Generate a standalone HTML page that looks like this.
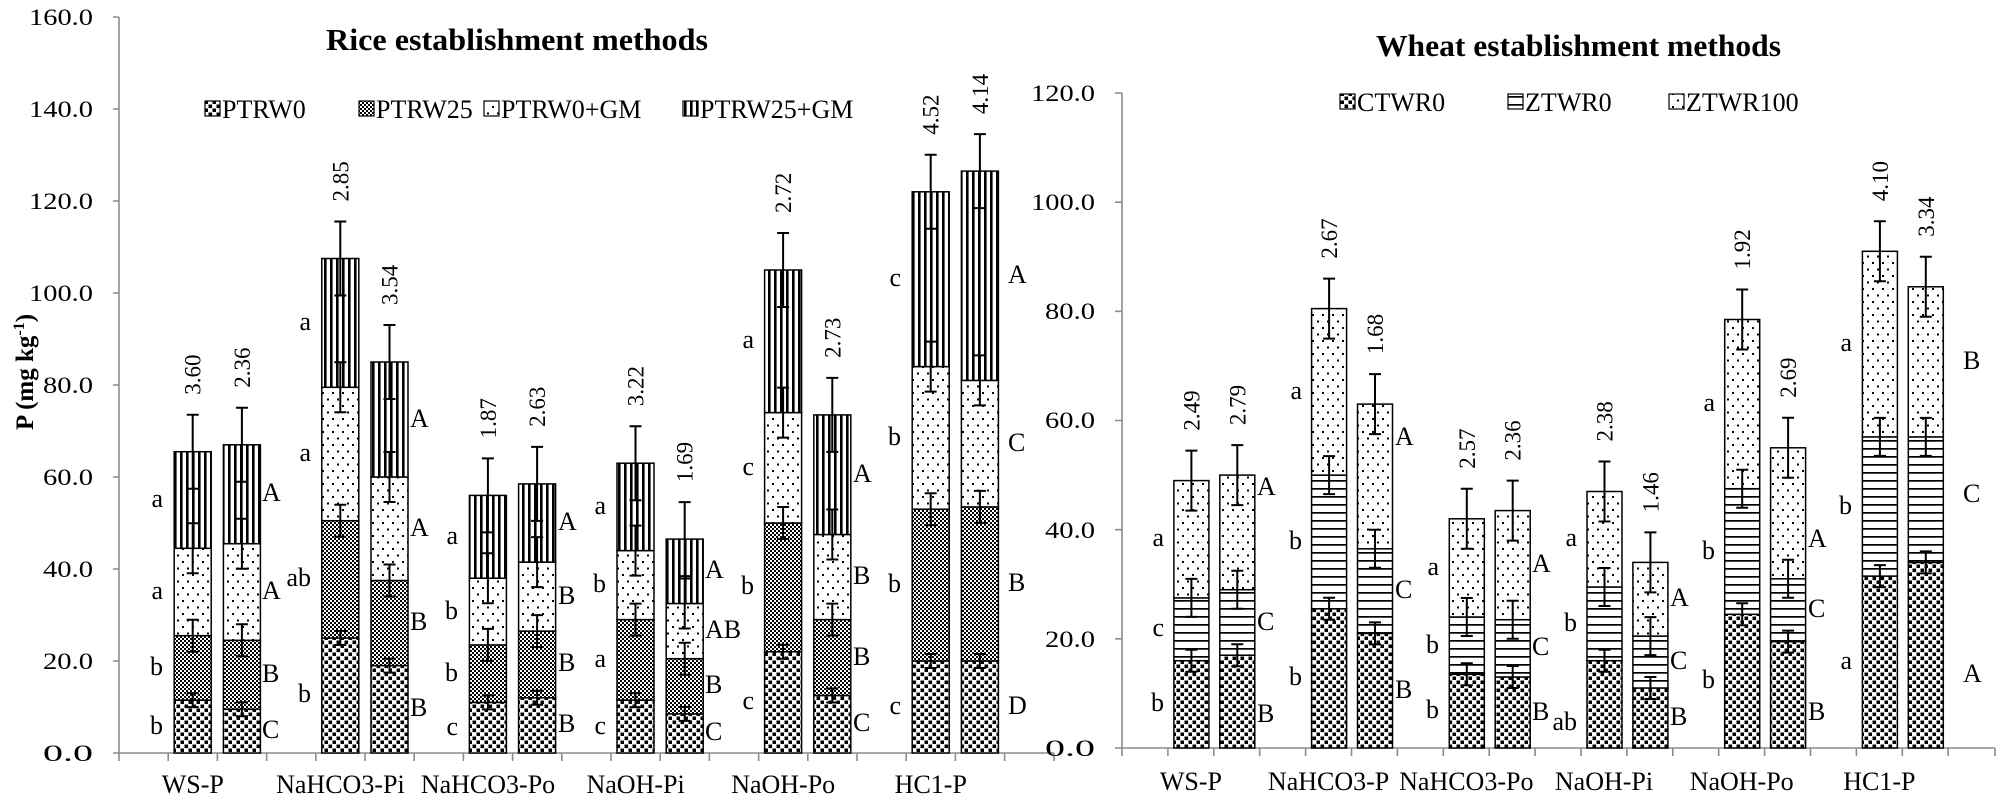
<!DOCTYPE html>
<html><head><meta charset="utf-8"><style>
html,body{margin:0;padding:0;background:#fff}
svg{display:block}
text{font-family:"Liberation Serif",serif;fill:#000}
</style></head><body>
<svg width="2007" height="803" viewBox="0 0 2007 803" xmlns="http://www.w3.org/2000/svg">
<defs>
<pattern id="p1" width="8" height="8" patternUnits="userSpaceOnUse"><rect width="8" height="8" fill="#fff"/><rect x="0.5" y="0.5" width="3.6" height="3.6" fill="#000"/><rect x="4.5" y="4.5" width="3.6" height="3.6" fill="#000"/></pattern>
<pattern id="p2" width="4" height="4" patternUnits="userSpaceOnUse"><rect width="4" height="4" fill="#fff"/><rect width="2" height="2" fill="#000"/><rect x="2" y="2" width="2" height="2" fill="#000"/></pattern>
<pattern id="p3" width="10" height="13" patternUnits="userSpaceOnUse"><rect width="10" height="13" fill="#fff"/><rect x="2" y="2" width="2" height="2" fill="#000"/><rect x="7" y="8.5" width="2" height="2" fill="#000"/></pattern>
<pattern id="p4" width="6" height="6" patternUnits="userSpaceOnUse"><rect width="6" height="6" fill="#fff"/><rect width="2.6" height="6" fill="#000"/></pattern>
<pattern id="p5" width="8" height="8" patternUnits="userSpaceOnUse"><rect width="8" height="8" fill="#fff"/><rect y="0" width="8" height="1.7" fill="#000"/></pattern>
</defs>

<!-- ========== LEFT (RICE) ========== -->
<text x="326" y="50" font-size="31" font-weight="bold" textLength="382" lengthAdjust="spacingAndGlyphs">Rice establishment methods</text>

<g font-size="26">
<rect x="205" y="101" width="15" height="15" fill="url(#p1)" stroke="#000" stroke-width="1.2"/><text x="222" y="118">PTRW0</text>
<rect x="359" y="101" width="15" height="15" fill="url(#p2)" stroke="#000" stroke-width="1.2"/><text x="376" y="118">PTRW25</text>
<rect x="484" y="101" width="15" height="15" fill="url(#p3)" stroke="#000" stroke-width="1.2"/><text x="501" y="118">PTRW0+GM</text>
<rect x="683" y="101" width="15" height="15" fill="url(#p4)" stroke="#000" stroke-width="1.2"/><text x="700" y="118">PTRW25+GM</text>
</g>

<text transform="translate(33,372) rotate(-90)" font-size="25" font-weight="bold" text-anchor="middle">P (mg kg<tspan dy="-9" font-size="16">-1</tspan><tspan dy="9">)</tspan></text>

<g stroke="#8c8c8c" stroke-width="1.6" fill="none">
<path d="M119,17V753H1054"/>
<path d="M113,753h6M113,661h6M113,569h6M113,477h6M113,385h6M113,293h6M113,201h6M113,109h6M113,17h6"/>
<path d="M119,753v8M168.2,753v8M217.4,753v8M266.6,753v8M315.8,753v8M365,753v8M414.2,753v8M463.4,753v8M512.6,753v8M561.8,753v8M611,753v8M660.2,753v8M709.4,753v8M758.6,753v8M807.8,753v8M857,753v8M906.2,753v8M955.4,753v8M1004.6,753v8M1054,753v8"/>
</g>
<g font-size="23" text-anchor="end">
<text x="93" y="761" textLength="50" lengthAdjust="spacingAndGlyphs">0.0</text>
<text x="93" y="669" textLength="50" lengthAdjust="spacingAndGlyphs">20.0</text>
<text x="93" y="577" textLength="50" lengthAdjust="spacingAndGlyphs">40.0</text>
<text x="93" y="485" textLength="50" lengthAdjust="spacingAndGlyphs">60.0</text>
<text x="93" y="393" textLength="50" lengthAdjust="spacingAndGlyphs">80.0</text>
<text x="93" y="301" textLength="64" lengthAdjust="spacingAndGlyphs">100.0</text>
<text x="93" y="209" textLength="64" lengthAdjust="spacingAndGlyphs">120.0</text>
<text x="93" y="117" textLength="64" lengthAdjust="spacingAndGlyphs">140.0</text>
<text x="93" y="25" textLength="64" lengthAdjust="spacingAndGlyphs">160.0</text>
</g>

<g stroke="#000" stroke-width="1.5">
<rect x="174.2" y="700.1" width="37" height="52.9" fill="url(#p1)"/><rect x="174.2" y="635.7" width="37" height="64.4" fill="url(#p2)"/><rect x="174.2" y="548.3" width="37" height="87.4" fill="url(#p3)"/><rect x="174.2" y="451.7" width="37" height="96.6" fill="url(#p4)"/>
<rect x="223.4" y="709.3" width="37" height="43.7" fill="url(#p1)"/><rect x="223.4" y="640.3" width="37" height="69" fill="url(#p2)"/><rect x="223.4" y="543.7" width="37" height="96.6" fill="url(#p3)"/><rect x="223.4" y="444.8" width="37" height="98.9" fill="url(#p4)"/>
<rect x="321.8" y="638" width="37" height="115" fill="url(#p1)"/><rect x="321.8" y="520.7" width="37" height="117.3" fill="url(#p2)"/><rect x="321.8" y="387.3" width="37" height="133.4" fill="url(#p3)"/><rect x="321.8" y="258.5" width="37" height="128.8" fill="url(#p4)"/>
<rect x="371" y="665.6" width="37" height="87.4" fill="url(#p1)"/><rect x="371" y="580.5" width="37" height="85.1" fill="url(#p2)"/><rect x="371" y="477" width="37" height="103.5" fill="url(#p3)"/><rect x="371" y="362" width="37" height="115" fill="url(#p4)"/>
<rect x="469.4" y="702.4" width="37" height="50.6" fill="url(#p1)"/><rect x="469.4" y="644.9" width="37" height="57.5" fill="url(#p2)"/><rect x="469.4" y="578.2" width="37" height="66.7" fill="url(#p3)"/><rect x="469.4" y="495.4" width="37" height="82.8" fill="url(#p4)"/>
<rect x="518.6" y="697.8" width="37" height="55.2" fill="url(#p1)"/><rect x="518.6" y="631.1" width="37" height="66.7" fill="url(#p2)"/><rect x="518.6" y="562.1" width="37" height="69" fill="url(#p3)"/><rect x="518.6" y="483.9" width="37" height="78.2" fill="url(#p4)"/>
<rect x="617" y="700.1" width="37" height="52.9" fill="url(#p1)"/><rect x="617" y="619.6" width="37" height="80.5" fill="url(#p2)"/><rect x="617" y="550.6" width="37" height="69" fill="url(#p3)"/><rect x="617" y="463.2" width="37" height="87.4" fill="url(#p4)"/>
<rect x="666.2" y="713.9" width="37" height="39.1" fill="url(#p1)"/><rect x="666.2" y="658.7" width="37" height="55.2" fill="url(#p2)"/><rect x="666.2" y="603.5" width="37" height="55.2" fill="url(#p3)"/><rect x="666.2" y="539.1" width="37" height="64.4" fill="url(#p4)"/>
<rect x="764.6" y="651.8" width="37" height="101.2" fill="url(#p1)"/><rect x="764.6" y="523" width="37" height="128.8" fill="url(#p2)"/><rect x="764.6" y="412.6" width="37" height="110.4" fill="url(#p3)"/><rect x="764.6" y="270" width="37" height="142.6" fill="url(#p4)"/>
<rect x="813.8" y="695.5" width="37" height="57.5" fill="url(#p1)"/><rect x="813.8" y="619.6" width="37" height="75.9" fill="url(#p2)"/><rect x="813.8" y="534.5" width="37" height="85.1" fill="url(#p3)"/><rect x="813.8" y="414.9" width="37" height="119.6" fill="url(#p4)"/>
<rect x="912.2" y="661" width="37" height="92" fill="url(#p1)"/><rect x="912.2" y="509.2" width="37" height="151.8" fill="url(#p2)"/><rect x="912.2" y="366.6" width="37" height="142.6" fill="url(#p3)"/><rect x="912.2" y="191.8" width="37" height="174.8" fill="url(#p4)"/>
<rect x="961.4" y="661" width="37" height="92" fill="url(#p1)"/><rect x="961.4" y="506.9" width="37" height="154.1" fill="url(#p2)"/><rect x="961.4" y="380.4" width="37" height="126.5" fill="url(#p3)"/><rect x="961.4" y="171.1" width="37" height="209.3" fill="url(#p4)"/>
</g>

<g stroke="#000" stroke-width="2" fill="none">
<path d="M192.7,693.1V707.1M186.7,693.1h12M186.7,707.1h12M192.7,619.7V651.7M186.7,619.7h12M186.7,651.7h12M192.7,523.3V573.3M186.7,523.3h12M186.7,573.3h12M192.7,414.7V488.7M186.7,414.7h12M186.7,488.7h12"/>
<path d="M241.9,702.3V716.3M235.9,702.3h12M235.9,716.3h12M241.9,624.3V656.3M235.9,624.3h12M235.9,656.3h12M241.9,518.7V568.7M235.9,518.7h12M235.9,568.7h12M241.9,407.8V481.8M235.9,407.8h12M235.9,481.8h12"/>
<path d="M340.3,631V645M334.3,631h12M334.3,645h12M340.3,504.7V536.7M334.3,504.7h12M334.3,536.7h12M340.3,362.3V412.3M334.3,362.3h12M334.3,412.3h12M340.3,221.5V295.5M334.3,221.5h12M334.3,295.5h12"/>
<path d="M389.5,658.6V672.6M383.5,658.6h12M383.5,672.6h12M389.5,564.5V596.5M383.5,564.5h12M383.5,596.5h12M389.5,452V502M383.5,452h12M383.5,502h12M389.5,325V399M383.5,325h12M383.5,399h12"/>
<path d="M487.9,695.4V709.4M481.9,695.4h12M481.9,709.4h12M487.9,628.9V660.9M481.9,628.9h12M481.9,660.9h12M487.9,553.2V603.2M481.9,553.2h12M481.9,603.2h12M487.9,458.4V532.4M481.9,458.4h12M481.9,532.4h12"/>
<path d="M537.1,690.8V704.8M531.1,690.8h12M531.1,704.8h12M537.1,615.1V647.1M531.1,615.1h12M531.1,647.1h12M537.1,537.1V587.1M531.1,537.1h12M531.1,587.1h12M537.1,446.9V520.9M531.1,446.9h12M531.1,520.9h12"/>
<path d="M635.5,693.1V707.1M629.5,693.1h12M629.5,707.1h12M635.5,603.6V635.6M629.5,603.6h12M629.5,635.6h12M635.5,525.6V575.6M629.5,525.6h12M629.5,575.6h12M635.5,426.2V500.2M629.5,426.2h12M629.5,500.2h12"/>
<path d="M684.7,706.9V720.9M678.7,706.9h12M678.7,720.9h12M684.7,642.7V674.7M678.7,642.7h12M678.7,674.7h12M684.7,578.5V628.5M678.7,578.5h12M678.7,628.5h12M684.7,502.1V576.1M678.7,502.1h12M678.7,576.1h12"/>
<path d="M783.1,644.8V658.8M777.1,644.8h12M777.1,658.8h12M783.1,507V539M777.1,507h12M777.1,539h12M783.1,387.6V437.6M777.1,387.6h12M777.1,437.6h12M783.1,233V307M777.1,233h12M777.1,307h12"/>
<path d="M832.3,688.5V702.5M826.3,688.5h12M826.3,702.5h12M832.3,603.6V635.6M826.3,603.6h12M826.3,635.6h12M832.3,509.5V559.5M826.3,509.5h12M826.3,559.5h12M832.3,377.9V451.9M826.3,377.9h12M826.3,451.9h12"/>
<path d="M930.7,654V668M924.7,654h12M924.7,668h12M930.7,493.2V525.2M924.7,493.2h12M924.7,525.2h12M930.7,341.6V391.6M924.7,341.6h12M924.7,391.6h12M930.7,154.8V228.8M924.7,154.8h12M924.7,228.8h12"/>
<path d="M979.9,654V668M973.9,654h12M973.9,668h12M979.9,490.9V522.9M973.9,490.9h12M973.9,522.9h12M979.9,355.4V405.4M973.9,355.4h12M973.9,405.4h12M979.9,134.1V208.1M973.9,134.1h12M973.9,208.1h12"/>
</g>

<g font-size="23">
<text transform="translate(200.7,394.7) rotate(-90)">3.60</text>
<text transform="translate(249.9,387.8) rotate(-90)">2.36</text>
<text transform="translate(348.3,201.5) rotate(-90)">2.85</text>
<text transform="translate(397.5,305) rotate(-90)">3.54</text>
<text transform="translate(495.9,438.4) rotate(-90)">1.87</text>
<text transform="translate(545.1,426.9) rotate(-90)">2.63</text>
<text transform="translate(643.5,406.2) rotate(-90)">3.22</text>
<text transform="translate(692.7,482.1) rotate(-90)">1.69</text>
<text transform="translate(791.1,213) rotate(-90)">2.72</text>
<text transform="translate(840.3,357.9) rotate(-90)">2.73</text>
<text transform="translate(938.7,134.8) rotate(-90)">4.52</text>
<text transform="translate(987.9,114.1) rotate(-90)">4.14</text>
</g>

<g font-size="26" text-anchor="end">
<text x="163" y="734">b</text><text x="163" y="675">b</text><text x="163" y="599">a</text><text x="163" y="507">a</text>
<text x="311" y="702">b</text><text x="311" y="586">ab</text><text x="311" y="461">a</text><text x="311" y="330">a</text>
<text x="458" y="735">c</text><text x="458" y="681">b</text><text x="458" y="619">b</text><text x="458" y="544">a</text>
<text x="606" y="734">c</text><text x="606" y="667">a</text><text x="606" y="592">b</text><text x="606" y="514">a</text>
<text x="754" y="709">c</text><text x="754" y="594">b</text><text x="754" y="475">c</text><text x="754" y="348">a</text>
<text x="901" y="714">c</text><text x="901" y="592">b</text><text x="901" y="445">b</text><text x="901" y="286">c</text>
</g>
<g font-size="26">
<text x="262" y="738">C</text><text x="262" y="682">B</text><text x="262" y="599">A</text><text x="262" y="501">A</text>
<text x="410" y="716">B</text><text x="410" y="630">B</text><text x="410" y="536">A</text><text x="410" y="427">A</text>
<text x="558" y="732">B</text><text x="558" y="671">B</text><text x="558" y="604">B</text><text x="558" y="530">A</text>
<text x="705" y="740">C</text><text x="705" y="693">B</text><text x="705" y="638">AB</text><text x="705" y="578">A</text>
<text x="853" y="731">C</text><text x="853" y="665">B</text><text x="853" y="584">B</text><text x="853" y="482">A</text>
<text x="1008" y="714">D</text><text x="1008" y="591">B</text><text x="1008" y="451">C</text><text x="1008" y="283">A</text>
</g>

<g font-size="26" text-anchor="middle">
<text x="192.8" y="793">WS-P</text>
<text x="340.4" y="793">NaHCO3-Pi</text>
<text x="488" y="793">NaHCO3-Po</text>
<text x="635.6" y="793">NaOH-Pi</text>
<text x="783.2" y="793">NaOH-Po</text>
<text x="930.8" y="793">HC1-P</text>
</g>

<!-- ========== RIGHT (WHEAT) ========== -->
<text x="1376" y="56" font-size="31" font-weight="bold" textLength="405" lengthAdjust="spacingAndGlyphs">Wheat establishment methods</text>
<g font-size="26">
<rect x="1340" y="94" width="15" height="15" fill="url(#p1)" stroke="#000" stroke-width="1.2"/><text x="1357" y="111">CTWR0</text>
<rect x="1508" y="94" width="15" height="15" fill="url(#p5)" stroke="#000" stroke-width="1.2"/><text x="1525" y="111">ZTWR0</text>
<rect x="1669" y="94" width="15" height="15" fill="url(#p3)" stroke="#000" stroke-width="1.2"/><text x="1686" y="111">ZTWR100</text>
</g>

<g stroke="#8c8c8c" stroke-width="1.6" fill="none">
<path d="M1122,93V748H1995"/>
<path d="M1115,748h7M1115,638.8h7M1115,529.7h7M1115,420.5h7M1115,311.3h7M1115,202.2h7M1115,93h7"/>
<path d="M1122,748v8M1167.9,748v8M1213.8,748v8M1259.7,748v8M1305.6,748v8M1351.5,748v8M1397.4,748v8M1443.3,748v8M1489.2,748v8M1535.1,748v8M1581,748v8M1626.9,748v8M1672.8,748v8M1718.7,748v8M1764.6,748v8M1810.5,748v8M1856.4,748v8M1902.3,748v8M1948.2,748v8M1995,748v8"/>
</g>
<g font-size="23" text-anchor="end">
<text x="1095" y="756" textLength="50" lengthAdjust="spacingAndGlyphs">0.0</text>
<text x="1095" y="647" textLength="50" lengthAdjust="spacingAndGlyphs">20.0</text>
<text x="1095" y="538" textLength="50" lengthAdjust="spacingAndGlyphs">40.0</text>
<text x="1095" y="428" textLength="50" lengthAdjust="spacingAndGlyphs">60.0</text>
<text x="1095" y="319" textLength="50" lengthAdjust="spacingAndGlyphs">80.0</text>
<text x="1095" y="210" textLength="64" lengthAdjust="spacingAndGlyphs">100.0</text>
<text x="1095" y="101" textLength="64" lengthAdjust="spacingAndGlyphs">120.0</text>
</g>

<g stroke="#000" stroke-width="1.5">
<rect x="1173.9" y="660.7" width="35" height="87.3" fill="url(#p1)"/><rect x="1173.9" y="597.9" width="35" height="62.8" fill="url(#p5)"/><rect x="1173.9" y="480.6" width="35" height="117.3" fill="url(#p3)"/>
<rect x="1219.8" y="655.2" width="35" height="92.8" fill="url(#p1)"/><rect x="1219.8" y="589.7" width="35" height="65.5" fill="url(#p5)"/><rect x="1219.8" y="475.1" width="35" height="114.6" fill="url(#p3)"/>
<rect x="1311.6" y="608.8" width="35" height="139.2" fill="url(#p1)"/><rect x="1311.6" y="475.1" width="35" height="133.7" fill="url(#p5)"/><rect x="1311.6" y="308.6" width="35" height="166.5" fill="url(#p3)"/>
<rect x="1357.5" y="633.4" width="35" height="114.6" fill="url(#p1)"/><rect x="1357.5" y="548.8" width="35" height="84.6" fill="url(#p5)"/><rect x="1357.5" y="404.1" width="35" height="144.7" fill="url(#p3)"/>
<rect x="1449.3" y="674.3" width="35" height="73.7" fill="url(#p1)"/><rect x="1449.3" y="617" width="35" height="57.3" fill="url(#p5)"/><rect x="1449.3" y="518.8" width="35" height="98.2" fill="url(#p3)"/>
<rect x="1495.2" y="677" width="35" height="71" fill="url(#p1)"/><rect x="1495.2" y="619.7" width="35" height="57.3" fill="url(#p5)"/><rect x="1495.2" y="510.6" width="35" height="109.1" fill="url(#p3)"/>
<rect x="1587" y="660.7" width="35" height="87.3" fill="url(#p1)"/><rect x="1587" y="587" width="35" height="73.7" fill="url(#p5)"/><rect x="1587" y="491.5" width="35" height="95.5" fill="url(#p3)"/>
<rect x="1632.9" y="688" width="35" height="60" fill="url(#p1)"/><rect x="1632.9" y="636.1" width="35" height="51.9" fill="url(#p5)"/><rect x="1632.9" y="562.4" width="35" height="73.7" fill="url(#p3)"/>
<rect x="1724.7" y="614.3" width="35" height="133.7" fill="url(#p1)"/><rect x="1724.7" y="488.7" width="35" height="125.6" fill="url(#p5)"/><rect x="1724.7" y="319.5" width="35" height="169.2" fill="url(#p3)"/>
<rect x="1770.6" y="641.6" width="35" height="106.4" fill="url(#p1)"/><rect x="1770.6" y="578.8" width="35" height="62.8" fill="url(#p5)"/><rect x="1770.6" y="447.8" width="35" height="131" fill="url(#p3)"/>
<rect x="1862.4" y="576.1" width="35" height="171.9" fill="url(#p1)"/><rect x="1862.4" y="436.9" width="35" height="139.2" fill="url(#p5)"/><rect x="1862.4" y="251.3" width="35" height="185.6" fill="url(#p3)"/>
<rect x="1908.3" y="562.4" width="35" height="185.6" fill="url(#p1)"/><rect x="1908.3" y="436.9" width="35" height="125.5" fill="url(#p5)"/><rect x="1908.3" y="286.8" width="35" height="150.1" fill="url(#p3)"/>
</g>

<g stroke="#000" stroke-width="2" fill="none">
<path d="M1191.4,649.7V671.7M1185.4,649.7h12M1185.4,671.7h12M1191.4,578.9V616.9M1185.4,578.9h12M1185.4,616.9h12M1191.4,450.6V510.6M1185.4,450.6h12M1185.4,510.6h12"/>
<path d="M1237.3,644.2V666.2M1231.3,644.2h12M1231.3,666.2h12M1237.3,570.7V608.7M1231.3,570.7h12M1231.3,608.7h12M1237.3,445.1V505.1M1231.3,445.1h12M1231.3,505.1h12"/>
<path d="M1329.1,597.8V619.8M1323.1,597.8h12M1323.1,619.8h12M1329.1,456.1V494.1M1323.1,456.1h12M1323.1,494.1h12M1329.1,278.6V338.6M1323.1,278.6h12M1323.1,338.6h12"/>
<path d="M1375,622.4V644.4M1369,622.4h12M1369,644.4h12M1375,529.8V567.8M1369,529.8h12M1369,567.8h12M1375,374.1V434.1M1369,374.1h12M1369,434.1h12"/>
<path d="M1466.8,663.3V685.3M1460.8,663.3h12M1460.8,685.3h12M1466.8,598V636M1460.8,598h12M1460.8,636h12M1466.8,488.8V548.8M1460.8,488.8h12M1460.8,548.8h12"/>
<path d="M1512.7,666V688M1506.7,666h12M1506.7,688h12M1512.7,600.7V638.7M1506.7,600.7h12M1506.7,638.7h12M1512.7,480.6V540.6M1506.7,480.6h12M1506.7,540.6h12"/>
<path d="M1604.5,649.7V671.7M1598.5,649.7h12M1598.5,671.7h12M1604.5,568V606M1598.5,568h12M1598.5,606h12M1604.5,461.5V521.5M1598.5,461.5h12M1598.5,521.5h12"/>
<path d="M1650.4,677V699M1644.4,677h12M1644.4,699h12M1650.4,617.1V655.1M1644.4,617.1h12M1644.4,655.1h12M1650.4,532.4V592.4M1644.4,532.4h12M1644.4,592.4h12"/>
<path d="M1742.2,603.3V625.3M1736.2,603.3h12M1736.2,625.3h12M1742.2,469.7V507.7M1736.2,469.7h12M1736.2,507.7h12M1742.2,289.5V349.5M1736.2,289.5h12M1736.2,349.5h12"/>
<path d="M1788.1,630.6V652.6M1782.1,630.6h12M1782.1,652.6h12M1788.1,559.8V597.8M1782.1,559.8h12M1782.1,597.8h12M1788.1,417.8V477.8M1782.1,417.8h12M1782.1,477.8h12"/>
<path d="M1879.9,565.1V587.1M1873.9,565.1h12M1873.9,587.1h12M1879.9,417.9V455.9M1873.9,417.9h12M1873.9,455.9h12M1879.9,221.3V281.3M1873.9,221.3h12M1873.9,281.3h12"/>
<path d="M1925.8,551.4V573.4M1919.8,551.4h12M1919.8,573.4h12M1925.8,417.9V455.9M1919.8,417.9h12M1919.8,455.9h12M1925.8,256.8V316.8M1919.8,256.8h12M1919.8,316.8h12"/>
</g>

<g font-size="23">
<text transform="translate(1199.4,430.6) rotate(-90)">2.49</text>
<text transform="translate(1245.3,425.1) rotate(-90)">2.79</text>
<text transform="translate(1337.1,258.6) rotate(-90)">2.67</text>
<text transform="translate(1383,354.1) rotate(-90)">1.68</text>
<text transform="translate(1474.8,468.8) rotate(-90)">2.57</text>
<text transform="translate(1520.7,460.6) rotate(-90)">2.36</text>
<text transform="translate(1612.5,441.5) rotate(-90)">2.38</text>
<text transform="translate(1658.4,512.4) rotate(-90)">1.46</text>
<text transform="translate(1750.2,269.5) rotate(-90)">1.92</text>
<text transform="translate(1796.1,397.8) rotate(-90)">2.69</text>
<text transform="translate(1887.9,201.3) rotate(-90)">4.10</text>
<text transform="translate(1933.8,236.8) rotate(-90)">3.34</text>
</g>

<g font-size="26" text-anchor="end">
<text x="1164" y="711">b</text><text x="1164" y="636">c</text><text x="1164" y="546">a</text>
<text x="1302" y="685">b</text><text x="1302" y="549">b</text><text x="1302" y="399">a</text>
<text x="1439" y="718">b</text><text x="1439" y="653">b</text><text x="1439" y="575">a</text>
<text x="1577" y="730">ab</text><text x="1577" y="631">b</text><text x="1577" y="546">a</text>
<text x="1715" y="688">b</text><text x="1715" y="559">b</text><text x="1715" y="411">a</text>
<text x="1852" y="669">a</text><text x="1852" y="514">b</text><text x="1852" y="351">a</text>
</g>
<g font-size="26">
<text x="1257" y="722">B</text><text x="1257" y="630">C</text><text x="1257" y="495">A</text>
<text x="1395" y="698">B</text><text x="1395" y="598">C</text><text x="1395" y="445">A</text>
<text x="1532" y="720">B</text><text x="1532" y="655">C</text><text x="1532" y="572">A</text>
<text x="1670" y="725">B</text><text x="1670" y="669">C</text><text x="1670" y="606">A</text>
<text x="1808" y="720">B</text><text x="1808" y="617">C</text><text x="1808" y="547">A</text>
<text x="1963" y="682">A</text><text x="1963" y="502">C</text><text x="1963" y="369">B</text>
</g>

<g font-size="26" text-anchor="middle">
<text x="1190.9" y="790">WS-P</text>
<text x="1328.6" y="790">NaHCO3-P</text>
<text x="1466.3" y="790">NaHCO3-Po</text>
<text x="1604" y="790">NaOH-Pi</text>
<text x="1741.7" y="790">NaOH-Po</text>
<text x="1879.4" y="790">HC1-P</text>
</g>
</svg>
</body></html>
